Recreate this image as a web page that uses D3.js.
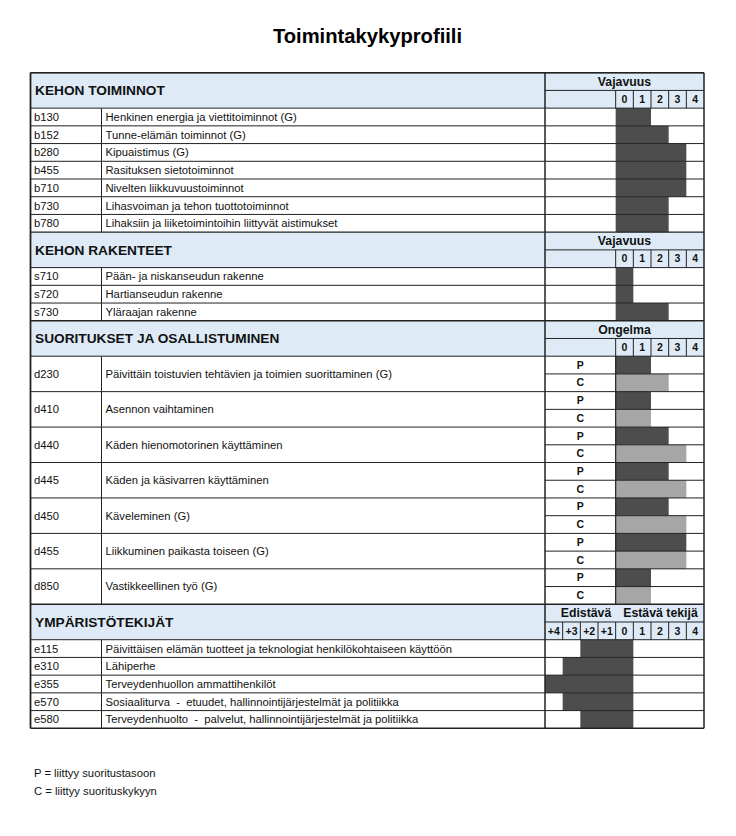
<!DOCTYPE html>
<html><head><meta charset="utf-8">
<script src="https://cdn.jsdelivr.net/npm/d3@7"></script>
<style>body{margin:0;background:#fff;} svg{display:block;font-family:"Liberation Sans",Arial,sans-serif;} text{white-space:pre;}</style>
</head><body><svg id="c" width="736" height="836"></svg>
<script>
const title = "Toimintakykyprofiili";
const sectionTitles = ["KEHON TOIMINNOT", "KEHON RAKENTEET", "SUORITUKSET JA OSALLISTUMINEN", "YMPÄRISTÖTEKIJÄT"];
const scaleTitles = ["Vajavuus", "Vajavuus", "Ongelma"];
const envScaleTitles = ["Edistävä", "Estävä tekijä"];
const impairmentTicks = ["0", "1", "2", "3", "4"];
const envTicks = ["+4", "+3", "+2", "+1", "0", "1", "2", "3", "4"];

const bCodes = ["b130", "b152", "b280", "b455", "b710", "b730", "b780"];
const bLabels = ["Henkinen energia ja viettitoiminnot (G)", "Tunne-elämän toiminnot (G)", "Kipuaistimus (G)", "Rasituksen sietotoiminnot", "Nivelten liikkuvuustoiminnot", "Lihasvoiman ja tehon tuottotoiminnot", "Lihaksiin ja liiketoimintoihin liittyvät aistimukset"];
const bValues = [1, 2, 3, 3, 3, 2, 2];

const sCodes = ["s710", "s720", "s730"];
const sLabels = ["Pään- ja niskanseudun rakenne", "Hartianseudun rakenne", "Yläraajan rakenne"];
const sValues = [0, 0, 2];

const dCodes = ["d230", "d410", "d440", "d445", "d450", "d455", "d850"];
const dLabels = ["Päivittäin toistuvien tehtävien ja toimien suorittaminen (G)", "Asennon vaihtaminen", "Käden hienomotorinen käyttäminen", "Käden ja käsivarren käyttäminen", "Käveleminen (G)", "Liikkuminen paikasta toiseen (G)", "Vastikkeellinen työ (G)"];
const dPerformance = [1, 1, 2, 2, 2, 3, 1];
const dCapacity = [2, 1, 3, 3, 3, 3, 1];
const subLabels = ["P", "C"];

const eCodes = ["e115", "e310", "e355", "e570", "e580"];
const eLabels = ["Päivittäisen elämän tuotteet ja teknologiat henkilökohtaiseen käyttöön", "Lähiperhe", "Terveydenhuollon ammattihenkilöt", "Sosiaaliturva  -  etuudet, hallinnointijärjestelmät ja politiikka", "Terveydenhuolto  -  palvelut, hallinnointijärjestelmät ja politiikka"];
const eValues = ["+2", "+3", "+4", "+3", "+2"];

const notes = ["P = liittyy suoritustasoon", "C = liittyy suorituskykyyn"];

const svg = d3.select("#c");
const L = 30.5, R = 704, codeDiv = 101.5, descEnd = 545;
const blue = "#deebf7", dark = "#4d4d4d", light = "#a6a6a6", lineC = "#222";
const x = d3.scaleBand().domain(envTicks).range([descEnd, R]);
const bw = x.bandwidth();
const totalUnits = 2 * 4 + bCodes.length + sCodes.length + dCodes.length * 2 + eCodes.length;
const y = d3.scaleLinear().domain([0, totalUnits]).range([72.7, 728.3]);
const rowFont = 11.25;

// title
svg.append("text").attr("x", 367.5).attr("y", 43).attr("text-anchor", "middle")
  .attr("font-size", 20.2).attr("font-weight", "bold").attr("fill", "#000").text(title);

const gBg = svg.append("g"), gBars = svg.append("g"), gLines = svg.append("g"), gText = svg.append("g");
function hline(x1, x2, yy, w, c) { gLines.append("line").attr("x1", x1).attr("x2", x2).attr("y1", yy).attr("y2", yy).attr("stroke", c || lineC).attr("stroke-width", w || 1); }
function vline(xx, y1, y2, w, c) { gLines.append("line").attr("x1", xx).attr("x2", xx).attr("y1", y1).attr("y2", y2).attr("stroke", c || lineC).attr("stroke-width", w || 1); }
function txt(xx, yy, s, o) {
  o = o || {};
  gText.append("text").attr("x", xx).attr("y", yy).attr("dy", "0.35em")
    .attr("text-anchor", o.anchor || "start").attr("font-size", o.size || rowFont)
    .attr("font-weight", o.bold ? "bold" : "normal").attr("fill", "#111").text(s);
}

let u = 0;
function header(titleText, env, scaleTitle) {
  const y0 = y(u), y1 = y(u + 1), y2 = y(u + 2);
  gBg.append("rect").attr("x", L).attr("y", y0).attr("width", R - L).attr("height", y2 - y0).attr("fill", blue);
  txt(35, (y0 + y2) / 2, titleText, { size: 13.7, bold: true });
  hline(L, R, y0, 1.3);
  hline(descEnd, R, y1, 1);
  vline(descEnd, y0, y2, 1.5);
  if (!env) {
    txt((descEnd + R) / 2, (y0 + y1) / 2, scaleTitle, { size: 12.3, bold: true, anchor: "middle" });
    impairmentTicks.forEach(t => {
      vline(x(t), y1, y2, 1);
      txt(x(t) + bw / 2, (y1 + y2) / 2, t, { size: 10.5, bold: true, anchor: "middle" });
    });
  } else {
    txt(586, (y0 + y1) / 2, envScaleTitles[0], { size: 12.3, bold: true, anchor: "middle" });
    txt(660.5, (y0 + y1) / 2, envScaleTitles[1], { size: 12.3, bold: true, anchor: "middle" });
    envTicks.forEach((t, i) => {
      if (i > 0) vline(x(t), y1, y2, 1);
      txt(x(t) + bw / 2, (y1 + y2) / 2, t, { size: 10.5, bold: true, anchor: "middle" });
    });
  }
  u += 2;
}
function impairBar(v, ya, yb, color) {
  gBars.append("rect").attr("x", x("0")).attr("y", ya).attr("width", x(String(v)) + bw - x("0"))
    .attr("height", yb - ya).attr("fill", color);
}
function simpleRows(codes, labels, values) {
  codes.forEach((c, i) => {
    const ya = y(u), yb = y(u + 1);
    hline(L, R, ya, 1);
    vline(codeDiv, ya, yb, 1);
    vline(descEnd, ya, yb, 1.5);
    txt(34, (ya + yb) / 2, c);
    txt(105.5, (ya + yb) / 2, labels[i]);
    impairBar(values[i], ya, yb, dark);
    u += 1;
  });
}

header(sectionTitles[0], false, scaleTitles[0]);
simpleRows(bCodes, bLabels, bValues);
header(sectionTitles[1], false, scaleTitles[1]);
simpleRows(sCodes, sLabels, sValues);
header(sectionTitles[2], false, scaleTitles[2]);
dCodes.forEach((c, i) => {
  const ya = y(u), ym = y(u + 1), yb = y(u + 2);
  hline(L, R, ya, 1);
  hline(descEnd, R, ym, 1);
  vline(codeDiv, ya, yb, 1);
  vline(descEnd, ya, yb, 1.5);
  vline(x("0"), ya, yb, 1.2);
  txt(34, (ya + yb) / 2, c);
  txt(105.5, (ya + yb) / 2, dLabels[i]);
  txt((descEnd + x("0")) / 2, (ya + ym) / 2, subLabels[0], { size: 10.5, bold: true, anchor: "middle" });
  txt((descEnd + x("0")) / 2, (ym + yb) / 2, subLabels[1], { size: 10.5, bold: true, anchor: "middle" });
  impairBar(dPerformance[i], ya, ym, dark);
  impairBar(dCapacity[i], ym, yb, light);
  u += 2;
});
header(sectionTitles[3], true);
eCodes.forEach((c, i) => {
  const ya = y(u), yb = y(u + 1);
  hline(L, R, ya, 1);
  vline(codeDiv, ya, yb, 1);
  vline(descEnd, ya, yb, 1.5);
  txt(34, (ya + yb) / 2, c);
  txt(105.5, (ya + yb) / 2, eLabels[i]);
  gBars.append("rect").attr("x", x(eValues[i])).attr("y", ya)
    .attr("width", x("0") + bw - x(eValues[i])).attr("height", yb - ya).attr("fill", dark);
  u += 1;
});
// outer frame
hline(L, R, y(totalUnits), 1.5);
hline(L, R, y(0), 1.5);
vline(L, y(0), y(totalUnits), 1.8);
vline(R, y(0), y(totalUnits), 1.5);

notes.forEach((n, i) => {
  svg.append("text").attr("x", 34).attr("y", 776.5 + i * 18.5).attr("font-size", rowFont).attr("fill", "#111").text(n);
});
</script></body></html>
